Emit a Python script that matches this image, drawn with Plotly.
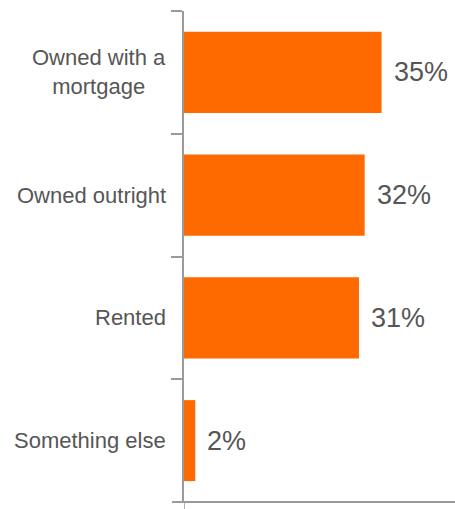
import plotly.graph_objects as go

# Housing tenure shares
categories = ["Owned with a<br>mortgage", "Owned outright", "Rented", "Something else"]
shares = [35, 32, 31, 2]
share_labels = [f"{v}%" for v in shares]

bar_color = "#FF6A00"
text_color = "#565656"
axis_color = "#9a9a9a"
font_family = "Liberation Sans, Arial, sans-serif"

fig = go.Figure(
    go.Bar(
        x=shares,
        y=categories,
        orientation="h",
        marker=dict(color=bar_color, line=dict(width=0)),
        hoverinfo="skip",
    )
)

# Category labels on the left, centred multi-line blocks
for cat in categories:
    fig.add_annotation(
        x=0, y=cat, xref="x", yref="y",
        text=cat, showarrow=False,
        xanchor="right", yanchor="middle", align="center",
        xshift=-16,
        font=dict(family=font_family, size=22, color=text_color),
    )

# Value labels just past each bar end
for cat, val, lab in zip(categories, shares, share_labels):
    fig.add_annotation(
        x=val, y=cat, xref="x", yref="y",
        text=lab, showarrow=False,
        xanchor="left", yanchor="middle",
        xshift=10,
        font=dict(family=font_family, size=27, color=text_color),
    )

# Baseline across the bottom, starting at the last tick
fig.add_shape(
    type="line", xref="paper", yref="paper",
    x0=-0.044, x1=1, y0=0, y1=0,
    line=dict(color=axis_color, width=2),
    layer="above",
)
# Short extension of the vertical axis below the baseline
fig.add_shape(
    type="line", xref="x", yref="paper",
    x0=0, x1=0, y0=0, y1=-0.02,
    line=dict(color=axis_color, width=1.5),
)

fig.update_layout(
    width=455, height=509,
    margin=dict(l=184, r=0, t=11, b=7),
    paper_bgcolor="white", plot_bgcolor="white",
    bargap=0.34,
    showlegend=False,
    xaxis=dict(
        range=[0, 48], showgrid=False, zeroline=False,
        showticklabels=False, ticks="", showline=False,
        fixedrange=True,
    ),
    yaxis=dict(
        autorange="reversed", showgrid=False, zeroline=False,
        showticklabels=False,
        ticks="outside", tickson="boundaries", ticklen=11,
        tickcolor=axis_color, tickwidth=1.5,
        showline=True, linecolor=axis_color, linewidth=1.5,
        fixedrange=True,
    ),
)

fig.write_html("out.html")
